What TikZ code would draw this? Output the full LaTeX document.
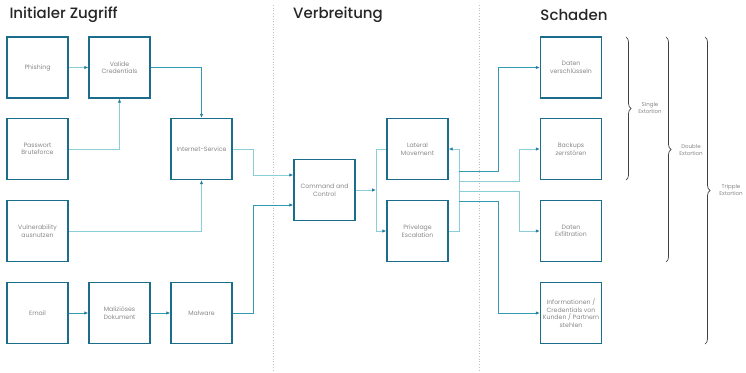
\documentclass[tikz,border=0pt]{standalone}
\usepackage{fontspec}
\setmainfont{Poppins}
\newfontfamily\headfont{Poppins Medium}
\usetikzlibrary{arrows.meta,decorations.pathreplacing}
\definecolor{boxblue}{RGB}{28,108,140}
\definecolor{flowteal}{RGB}{50,155,178}
\definecolor{paleteal}{RGB}{140,205,218}
\definecolor{labelgray}{RGB}{135,135,135}
\tikzset{
  stage/.style={draw=boxblue, line width=1.4pt, minimum width=61pt, minimum height=61pt,
    inner sep=1pt, align=center, text=labelgray, font=\fontsize{6.2}{7.6}\selectfont},
  heading/.style={text=black!85, font=\headfont\fontsize{15}{18}\selectfont},
  flow/.style={draw=flowteal, line width=0.8pt, -{Latex[length=4pt,width=3.5pt,color=boxblue!60!flowteal]}},
  paleflow/.style={flow, draw=paleteal},
  paleline/.style={draw=paleteal, line width=0.8pt},
  divider/.style={draw=black!25, dotted, line width=0.7pt},
  bracket/.style={decorate, decoration={brace, amplitude=5pt}, draw=black!75, line width=0.7pt},
  extlabel/.style={align=center, text=labelgray, font=\fontsize{5.5}{6.8}\selectfont}
}
\begin{document}
\begin{tikzpicture}[x=1pt, y=-1pt]
	\useasboundingbox (0,0) rectangle (746,372);
	% Headings and dividers:
	\node[heading, anchor=west] (hzugriff) at (6,15) {Initialer Zugriff};
	\node[heading] (hverbreitung) at (338,15) {Verbreitung};
	\node[heading] (hschaden) at (574,15) {Schaden};
	\draw[divider] (273,5) -- (273,372);
	\draw[divider] (479,5) -- (479,372);
	% Initial access:
	\node[stage] (phishing) at (37.5,67.5) {Phishing};
	\node[stage] (valide) at (119.5,67.5) {Valide\\Credentials};
	\node[stage] (brute) at (37.5,149) {Passwort\\Bruteforce};
	\node[stage] (inet) at (201.5,149) {Internet-Service};
	\node[stage] (vuln) at (37.5,231) {Vulnerability\\ausnutzen};
	\node[stage] (email) at (37.5,313) {Email};
	\node[stage] (doku) at (119.5,313) {Maliziöses\\Dokument};
	\node[stage] (malware) at (201.5,313) {Malware};
	% Spreading:
	\node[stage] (cc) at (324.5,190) {Command and\\Control};
	\node[stage] (lateral) at (417.5,149) {Lateral\\Movement};
	\node[stage] (priv) at (417.5,231) {Privelage\\Escalation};
	% Damage:
	\node[stage] (verschl) at (571,67.5) {Daten\\verschlüsseln};
	\node[stage] (backups) at (571,149) {Backups\\zerrstören};
	\node[stage] (exfil) at (571,231) {Daten\\Exfiltration};
	\node[stage] (info) at (571,313) {Informationen /\\Credentials von\\Kunden / Partnern\\stehlen};
	% Connectors:
	\draw[paleflow] (phishing) -- (valide);
	\draw[paleflow] (brute.east) -| (valide.south);
	\draw[flow] (valide.east) -| (inet.north);
	\draw[paleflow] (vuln.east) -| (inet.south);
	\draw[flow] (email) -- (doku);
	\draw[flow] (doku) -- (malware);
	\draw[paleflow] (inet.east) -- ++(21,0) |- ([yshift=15pt]cc.west);
	\draw[flow] (malware.east) -- ++(21,0) |- ([yshift=-15pt]cc.west);
	\coordinate (split) at (376,190);
	\draw[paleflow] (cc.east) -- (split);
	\draw[paleline] (split) |- (lateral.west);
	\draw[paleflow] (split) |- (priv.west);
	\draw[paleflow] (priv.east) -- ++(11,0) |- (lateral.east);
	\coordinate (d1) at (459,171);
	\coordinate (d2) at (459,181);
	\coordinate (d3) at (459,191);
	\coordinate (d4) at (459,201);
	\draw[flow] (d1) -| ([xshift=-41pt]verschl.west) -- (verschl.west);
	\draw[paleflow] (d2) -| ([xshift=-20pt]backups.west) -- (backups.west);
	\draw[paleflow] (d3) -| ([xshift=-20pt]exfil.west) -- (exfil.west);
	\draw[flow] (d4) -| ([xshift=-41pt]info.west) -- (info.west);
	% Extortion braces:
	\draw[bracket] (626,37) -- (626,180);
	\node[extlabel] (single) at (650,108) {Single\\Extortion};
	\draw[bracket] (666,37) -- (666,262);
	\node[extlabel] (double) at (691,150) {Double\\Extortion};
	\draw[bracket] (705,37) -- (705,344);
	\node[extlabel] (triple) at (731,190) {Tripple\\Extortion};
\end{tikzpicture}
\end{document}
